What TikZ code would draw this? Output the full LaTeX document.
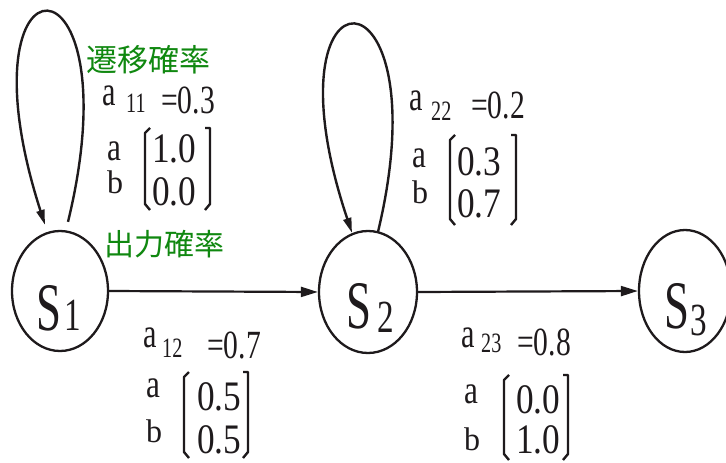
\documentclass[tikz,border=0pt]{standalone}
\usepackage{fontspec}
\usepackage{graphicx}
\setmainfont{Liberation Serif}
\newfontfamily\cjk{Noto Sans CJK JP}
\usetikzlibrary{arrows.meta,shapes.geometric}
\definecolor{labgreen}{RGB}{16,136,16}
\definecolor{ink}{RGB}{30,26,28}
\newcommand\fs[1]{\fontsize{#1}{#1}\selectfont}
\newcommand\nar[3]{\scalebox{#1}[1]{\fs{#2}#3}}
\tikzset{
  x=1pt, y=-1pt,
  state/.style={draw=ink, line width=2.3pt, ellipse, inner sep=0pt},
  arr/.style={draw=ink, line width=2.2pt, -{Triangle[length=17pt,width=10pt]}},
  looparr/.style={draw=ink, line width=2.4pt, -{Triangle[length=15pt,width=8pt]}},
  brk/.style={draw=ink, line width=2.4pt, line join=round},
  txt/.style={inner sep=0pt, anchor=base west, text=ink},
  cjklab/.style={inner sep=0pt, anchor=base west, text=labgreen, font=\cjk\fs{31}}
}
\newcommand\la[1]{\nar{0.72}{42}{#1}}
\newcommand\lsub[1]{\nar{0.72}{28}{#1}}
\newcommand\lval[1]{\nar{0.74}{40}{#1}}
\newcommand\mab[1]{\nar{0.78}{40}{#1}}
\newcommand\mabb[1]{\scalebox{0.8}[0.82]{\fs{40}#1}}
\newcommand\mval[1]{\nar{0.84}{42}{#1}}
\newcommand\sname[1]{\nar{0.66}{68}{#1}}
\newcommand\ssub[1]{\nar{0.72}{46}{#1}}
\newcommand\lbrk[3]{\draw[brk] (#1+7,#2) -- (#1+2,#2+5) -- (#1+2,#3-6) -- (#1+7,#3);}
\newcommand\rbrk[3]{\draw[brk] (#1-7,#2) -- (#1-2,#2) -- (#1-2,#3-6) -- (#1-7,#3);}
\begin{document}
\begin{tikzpicture}
\path[use as bounding box, fill=white] (0,0) rectangle (726,463);

% states
\node[state, minimum width=96pt, minimum height=120pt] (s1) at (60,291) {};
\node[state, minimum width=98pt, minimum height=122pt] (s2) at (368,292) {};
\node[state, minimum width=92pt, minimum height=122pt] (s3) at (685,291) {};

\node[txt] (s1n) at (36,330) {\sname{S}};
\node[txt] (s1s) at (64,330) {\ssub{1}};
\node[txt] (s2n) at (346,328) {\sname{S}};
\node[txt] (s2s) at (377,332) {\ssub{2}};
\node[txt] (s3n) at (664,328) {\sname{S}};
\node[txt] (s3s) at (690,335) {\ssub{3}};

% transitions
\draw[arr] (s1.east) -- (s2.west);
\draw[arr] (s2.east) -- (s3.west);
\draw[looparr] ([xshift=8pt,yshift=8pt]s1.north) .. controls (136,-58) and (-46,-58) .. ([xshift=-15pt,yshift=5pt]s1.north);
\draw[looparr] ([xshift=10pt,yshift=-2pt]s2.north) .. controls (444,-44) and (259,-44) .. ([xshift=-16pt,yshift=-3pt]s2.north);

% green labels
\node[cjklab] (trans) at (86,71) {遷移確率};
\node[cjklab, font=\cjk\fs{30}] (outp) at (104,255) {出力確率};

% a11
\node[txt] (a11a) at (102,105) {\la{a}};
\node[txt] (a11s) at (126,112) {\lsub{11}};
\node[txt] (a11v) at (161,113) {\lval{=0.3}};
\node[txt] (m1a) at (107,160) {\mab{a}};
\node[txt] (m1b) at (107,193) {\mabb{b}};
\node[txt] (m1v1) at (152,162) {\mval{1.0}};
\node[txt] (m1v2) at (152,205) {\mval{0.0}};
\lbrk{143}{128}{210}
\rbrk{212}{128}{210}

% a12
\node[txt] (a12a) at (143,347) {\la{a}};
\node[txt] (a12s) at (162,357) {\lsub{12}};
\node[txt] (a12v) at (207,358) {\lval{=0.7}};
\node[txt] (m2a) at (146,397) {\mab{a}};
\node[txt] (m2b) at (146,442) {\mabb{b}};
\node[txt] (m2v1) at (197,410) {\mval{0.5}};
\node[txt] (m2v2) at (197,453) {\mval{0.5}};
\lbrk{182}{372}{458}
\rbrk{250}{372}{458}

% a22
\node[txt] (a22a) at (409,110) {\la{a}};
\node[txt] (a22s) at (431,120) {\lsub{22}};
\node[txt] (a22v) at (471,118) {\lval{=0.2}};
\node[txt] (m3a) at (412,167) {\mab{a}};
\node[txt] (m3b) at (412,203) {\mabb{b}};
\node[txt] (m3v1) at (457,175) {\mval{0.3}};
\node[txt] (m3v2) at (457,217) {\mval{0.7}};
\lbrk{448}{135}{225}
\rbrk{518}{135}{225}

% a23
\node[txt] (a23a) at (461,347) {\la{a}};
\node[txt] (a23s) at (481,352) {\lsub{23}};
\node[txt] (a23v) at (517,355) {\lval{=0.8}};
\node[txt] (m4a) at (464,403) {\mab{a}};
\node[txt] (m4b) at (464,450) {\mabb{b}};
\node[txt] (m4v1) at (516,413) {\mval{0.0}};
\node[txt] (m4v2) at (516,453) {\mval{1.0}};
\lbrk{502}{375}{460}
\rbrk{570}{375}{460}
\end{tikzpicture}
\end{document}
